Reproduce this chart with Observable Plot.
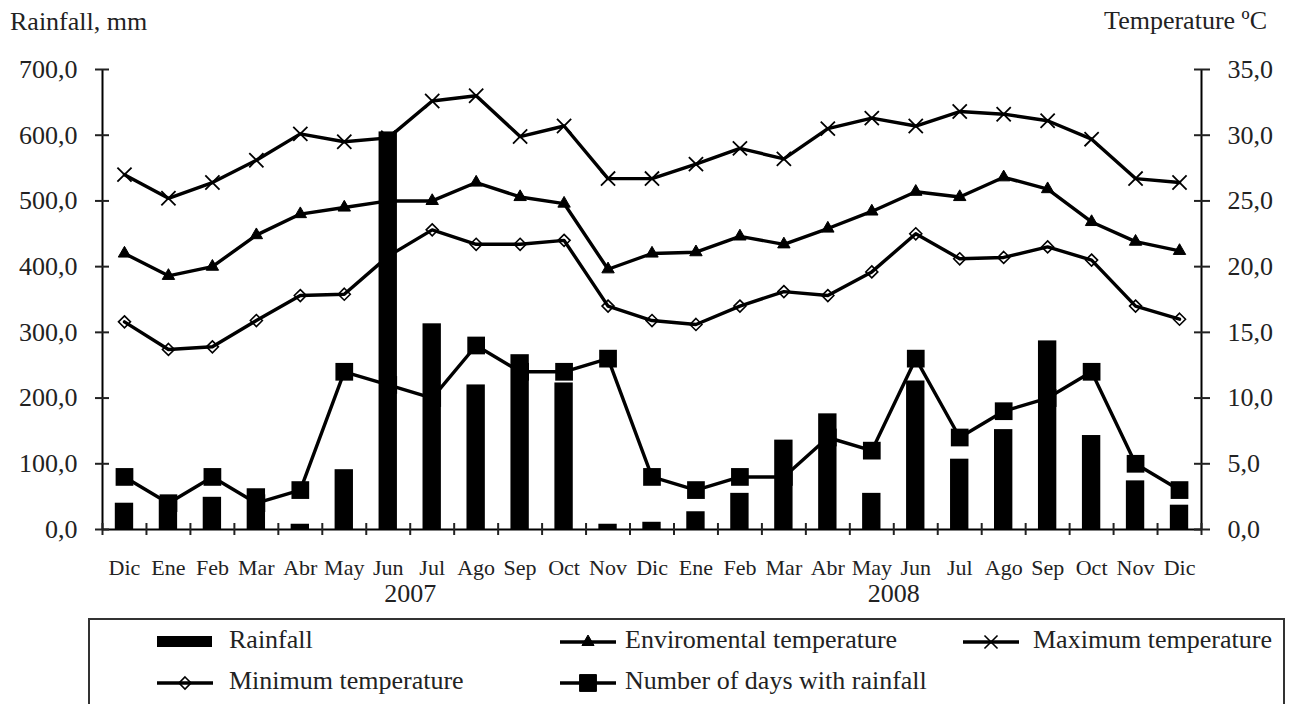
<!DOCTYPE html>
<html><head><meta charset="utf-8">
<script src="https://cdn.jsdelivr.net/npm/d3@7"></script>
<script src="https://cdn.jsdelivr.net/npm/@observablehq/plot@0.6"></script>
<style>
body{margin:0;background:#fff;font-family:"Liberation Serif","Times New Roman",serif;color:#222;}
#wrap{position:relative;width:1292px;height:704px;overflow:hidden;background:#fff;}
#chart{position:absolute;left:0;top:0;}
.t{position:absolute;font-size:26px;line-height:26px;white-space:nowrap;color:#222;font-family:"Liberation Serif",serif;}
#legend{position:absolute;left:88px;top:618px;width:1197px;height:120px;border:2px solid #333;box-sizing:border-box;}
.lt{position:absolute;font-size:26px;line-height:26px;white-space:nowrap;color:#222;font-family:"Liberation Serif",serif;}
.sw{position:absolute;}
</style></head><body>
<div id="wrap">
  <div id="chart"></div>
  <div class="t" style="left:10px;top:9px;">Rainfall, mm</div>
  <div class="t" style="right:25px;top:8px;">Temperature ºC</div>
  <div id="legend"></div>
</div>
<script>
const months = ["Dic","Ene","Feb","Mar","Abr","May","Jun","Jul","Ago","Sep","Oct","Nov",
                "Dic","Ene","Feb","Mar","Abr","May","Jun","Jul","Ago","Sep","Oct","Nov","Dic"];
const rainfall = [40, 45, 49, 62, 8, 91, 605, 313, 220, 266, 223, 8,
                  11, 27, 55, 136, 176, 55, 226, 107, 152, 287, 143, 74, 37];
const rainDays = [4, 2, 4, 2, 3, 12, 11, 10, 14, 12, 12, 13,
                  4, 3, 4, 4, 7, 6, 13, 7, 9, 10, 12, 5, 3];
const tempEnv = [21.0, 19.3, 20.0, 22.4, 24.0, 24.5, 25.0, 25.0, 26.4, 25.3, 24.8, 19.8,
                 21.0, 21.1, 22.3, 21.7, 22.9, 24.2, 25.7, 25.3, 26.8, 25.9, 23.4, 21.9, 21.2];
const tempMax = [27.0, 25.2, 26.4, 28.1, 30.1, 29.5, 29.8, 32.6, 33.0, 29.9, 30.7, 26.7,
                 26.7, 27.8, 29.0, 28.2, 30.5, 31.3, 30.7, 31.8, 31.6, 31.1, 29.7, 26.7, 26.4];
const tempMin = [15.8, 13.7, 13.9, 15.9, 17.8, 17.9, 20.8, 22.8, 21.7, 21.7, 22.0, 17.0,
                 15.9, 15.6, 17.0, 18.1, 17.8, 19.6, 22.5, 20.6, 20.7, 21.5, 20.5, 17.0, 16.0];
const years = ["2007", "2008"];
const yearAt = [7, 18];
const leftTicks = [0, 100, 200, 300, 400, 500, 600, 700];
const tempFactor = 20; // 35 °C on the right axis ↔ 700 mm on the left axis

const rows = months.map((m, i) => ({
  i, m, rain: rainfall[i], days: rainDays[i], env: tempEnv[i], max: tempMax[i], min: tempMin[i]
}));
const X = d => d.i + 0.5;
const fmt = v => v.toFixed(1).replace(".", ",");
const T = k => d => d[k] * tempFactor;

const lineOpts = {x: X, stroke: "black", strokeWidth: 3.4, strokeLinejoin: "round"};

const chart = Plot.plot({
  width: 1292, height: 618,
  marginLeft: 102, marginRight: 91, marginTop: 69, marginBottom: 89,
  x: {domain: [0, 25], axis: null, label: null},
  y: {domain: [0, 700], axis: null, label: null},
  style: {fontFamily: "Liberation Serif, Times New Roman, serif", color: "#222", background: "white", overflow: "visible"},
  marks: [
    Plot.lineY(rows, {...lineOpts, y: T("max")}),
    Plot.lineY(rows, {...lineOpts, y: T("env")}),
    Plot.lineY(rows, {...lineOpts, y: T("min")}),
    Plot.lineY(rows, {...lineOpts, y: T("days")}),
    Plot.rectY(rows, {x1: d => d.i, x2: d => d.i + 1, y: "rain", fill: "black", insetLeft: 12.8, insetRight: 12.8}),
    Plot.dot(rows, {x: X, y: T("max"), symbol: "times", r: 6.5, stroke: "black", strokeWidth: 1.8}),
    Plot.dot(rows, {x: X, y: T("env"), symbol: "triangle", r: 4.6, fill: "black", stroke: "black", strokeWidth: 1}),
    Plot.dot(rows, {x: X, y: T("min"), symbol: "diamond2", r: 5.4, fill: "none", stroke: "black", strokeWidth: 1.6}),
    Plot.dot(rows, {x: X, y: T("days"), symbol: "square", r: 10, fill: "black"}),
    Plot.ruleX([0, 25], {stroke: "black", strokeWidth: 2}),
    Plot.ruleY([0], {stroke: "black", strokeWidth: 2}),
    Plot.axisY({anchor: "left", label: null, ticks: leftTicks, tickSize: 7, tickPadding: 18, tickFormat: fmt, fontSize: 26, strokeWidth: 2}),
    Plot.axisY({anchor: "left", label: null, ticks: leftTicks, tickSize: -7, tickFormat: () => "", strokeWidth: 2}),
    Plot.axisY({anchor: "right", label: null, ticks: leftTicks, tickSize: 8, tickPadding: 18, tickFormat: v => fmt(v / tempFactor), fontSize: 26, strokeWidth: 2}),
    Plot.axisY({anchor: "right", label: null, ticks: leftTicks, tickSize: -8, tickFormat: () => "", strokeWidth: 2}),
    Plot.axisX({label: null, ticks: d3.range(26), tickSize: 6, tickFormat: () => "", strokeWidth: 2}),
    Plot.axisX({label: null, ticks: d3.range(26), tickSize: -6, tickFormat: () => "", strokeWidth: 2}),
    Plot.axisX({label: null, ticks: d3.range(25).map(i => i + 0.5), tickSize: 0, tickPadding: 30,
                tickFormat: v => months[Math.floor(v)], fontSize: 22}),
    Plot.text(years, {x: (d, i) => yearAt[i], y: () => 0, text: d => d, dy: 64, fontSize: 26, fill: "#222"})
  ]
});
document.getElementById("chart").appendChild(chart);

// Legend (below the chart SVG)
const legend = document.getElementById("legend");
const ox = 90, oy = 620; // inner origin of the legend box on the page
const colSw = [157, 560, 963], colTx = [229, 625, 1033], rowY = [642, 683];
const items = [
  {label: "Rainfall", kind: "bar", col: 0, row: 0},
  {label: "Enviromental temperature", sym: d3.symbolTriangle, r: 4.5, fill: true, col: 1, row: 0},
  {label: "Maximum temperature", sym: d3.symbolTimes, r: 6, col: 2, row: 0},
  {label: "Minimum temperature", sym: d3.symbolDiamond2, r: 5.4, col: 0, row: 1},
  {label: "Number of days with rainfall", sym: d3.symbolSquare, r: 9.5, fill: true, col: 1, row: 1}
];
for (const it of items) {
  const svg = d3.create("svg").attr("class", "sw").attr("width", 56).attr("height", 24)
    .style("left", (colSw[it.col] - ox) + "px").style("top", (rowY[it.row] - oy - 12) + "px");
  if (it.kind === "bar") {
    svg.append("rect").attr("x", 0).attr("y", 6).attr("width", 55).attr("height", 11).attr("fill", "black");
  } else {
    svg.append("line").attr("x1", 0).attr("x2", 56).attr("y1", 12).attr("y2", 12).attr("stroke", "black").attr("stroke-width", 3.4);
    svg.append("path").attr("transform", "translate(28,12)")
      .attr("d", d3.symbol(it.sym, it.r * it.r * Math.PI)())
      .attr("fill", it.fill ? "black" : "none").attr("stroke", "black").attr("stroke-width", it.fill ? 1 : 1.6);
  }
  legend.appendChild(svg.node());
  const t = document.createElement("div");
  t.className = "lt";
  t.textContent = it.label;
  t.style.left = (colTx[it.col] - ox) + "px";
  t.style.top = (rowY[it.row] - oy - 15) + "px";
  legend.appendChild(t);
}
</script>
</body></html>
